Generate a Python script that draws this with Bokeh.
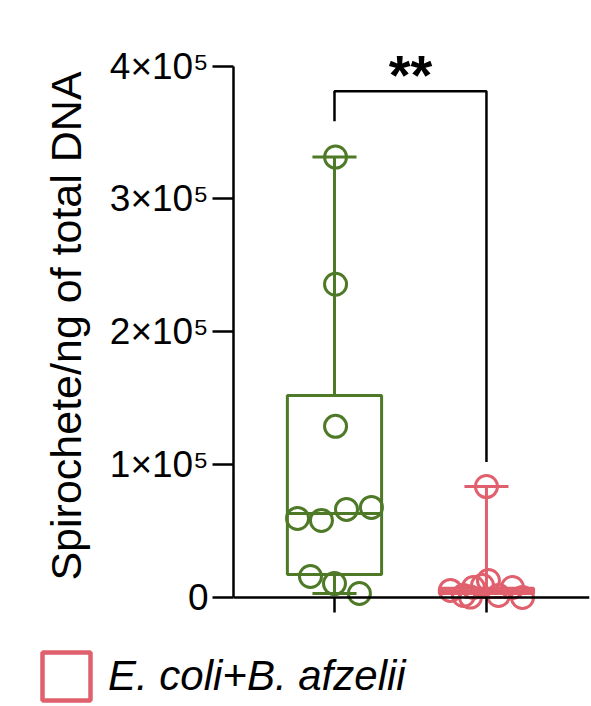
from bokeh.plotting import figure
from bokeh.layouts import column
from bokeh.models import (Range1d, FixedTicker, Legend, LegendItem)
from bokeh.core.properties import value
from bokeh.embed import file_html
from bokeh.resources import INLINE

# ---------------- data ----------------
groups = ["B. afzelii", "E. coli+B. afzelii"]
colors = ["#4e7a27", "#e0606d"]

green_vals = [3.315e5, 2.358e5, 1.288e5, 0.595e5, 0.58e5, 0.663e5, 0.678e5, 0.158e5, 0.105e5, 0.03e5]
green_dx = [0.007, 0.007, 0.007, -0.243, -0.086, 0.079, 0.243, -0.158, 0.0, 0.164]

red_vals = [0.835e5, 0.053e5, 0.015e5, 0.075e5, 0.09e5, 0.128e5, 0.015e5, 0.075e5, 0.0, 0.003e5]
red_dx = [0.0, -0.237, -0.151, -0.086, -0.026, 0.013, 0.079, 0.171, 0.237, -0.105]

# box statistics: min, q1, median, q3, max
box_min = [0.03e5, 0.0]
box_q1 = [0.173e5, 0.03e5]
box_med = [0.633e5, 0.05e5]
box_q3 = [1.52e5, 0.07e5]
box_max = [3.315e5, 0.835e5]

y_ticks = [0, 1e5, 2e5, 3e5, 4e5]
y_tick_labels = ["0", "1×10⁵", "2×10⁵", "3×10⁵", "4×10⁵"]

sig_text = "**"
sig_y = 3.94e5
bracket_top = 3.81e5
bracket_left_bottom = 3.585e5
bracket_right_bottom = 1.02e5

y_label = "Spirochete/ng of total DNA"
legend_label = "E. coli+B. afzelii"

FONT = "Liberation Sans"

# ---------------- main figure ----------------
p = figure(width=591, height=640,
           x_range=Range1d(0.3355, 2.678), y_range=Range1d(-0.113e5, 4.2e5),
           output_backend="svg", toolbar_location=None,
           min_border_left=233, min_border_right=2,
           min_border_top=39, min_border_bottom=28)
p.outline_line_color = None
p.xgrid.visible = False
p.ygrid.visible = False

xpos = [i + 1 for i in range(len(groups))]
half_box = 0.31
half_cap = 0.145

for i, (x, c) in enumerate(zip(xpos, colors)):
    p.quad(left=[x - half_box], right=[x + half_box], bottom=[box_q1[i]], top=[box_q3[i]],
           fill_color=None, line_color=c, line_width=3)
    p.segment(x0=[x - half_box], x1=[x + half_box], y0=[box_med[i]], y1=[box_med[i]],
              line_color=c, line_width=3)
    p.segment(x0=[x, x], x1=[x, x], y0=[box_q3[i], box_min[i]], y1=[box_max[i], box_q1[i]],
              line_color=c, line_width=3)
    p.segment(x0=[x - half_cap, x - half_cap], x1=[x + half_cap, x + half_cap],
              y0=[box_max[i], box_min[i]], y1=[box_max[i], box_min[i]],
              line_color=c, line_width=3)

p.scatter(x=[xpos[0] + d for d in green_dx], y=green_vals, size=22, marker="circle",
          fill_color=None, line_color=colors[0], line_width=3)
p.scatter(x=[xpos[1] + d for d in red_dx], y=red_vals, size=22, marker="circle",
          fill_color=None, line_color=colors[1], line_width=3)

# significance bracket
p.line(x=[xpos[0], xpos[0], xpos[1], xpos[1]],
       y=[bracket_left_bottom, bracket_top, bracket_top, bracket_right_bottom],
       line_color="black", line_width=2.5)
p.text(x=[(xpos[0] + xpos[1]) / 2], y=[sig_y], text=[sig_text],
       text_font=value(FONT), text_font_size="56px", text_font_style="bold",
       text_align="center", text_baseline="middle", text_color="black")

# axes
yax = p.yaxis[0]
yax.bounds = (0, 4e5)
yax.ticker = FixedTicker(ticks=y_ticks)
yax.major_label_overrides = {t: l for t, l in zip(y_ticks, y_tick_labels)}
yax.major_tick_out = 21
yax.major_tick_in = 0
yax.minor_tick_out = 0
yax.minor_tick_in = 0
yax.axis_line_width = 2.5
yax.major_tick_line_width = 2.5
yax.major_label_text_font = FONT
yax.major_label_text_font_size = "37px"
yax.major_label_text_color = "black"
yax.major_label_standoff = 4
yax.axis_label = y_label
yax.axis_label_text_font = FONT
yax.axis_label_text_font_size = "43px"
yax.axis_label_text_font_style = "normal"
yax.axis_label_text_color = "black"
yax.axis_label_standoff = 17

xax = p.xaxis[0]
xax.fixed_location = 0
xax.ticker = FixedTicker(ticks=xpos)
xax.major_label_overrides = {x: "" for x in xpos}
xax.major_label_text_font_size = "1px"
xax.major_label_standoff = 0
xax.major_tick_out = 21
xax.major_tick_in = 0
xax.minor_tick_out = 0
xax.minor_tick_in = 0
xax.axis_line_width = 2.5
xax.major_tick_line_width = 2.5

# ---------------- legend strip ----------------
lg = figure(width=591, height=66, x_range=Range1d(0, 1), y_range=Range1d(0, 1),
            output_backend="svg", toolbar_location=None,
            min_border_left=0, min_border_right=0, min_border_top=0, min_border_bottom=0)
lg.frame_align = False
lg.axis.visible = False
lg.xgrid.visible = False
lg.ygrid.visible = False
lg.outline_line_color = None
# proxy renderer (hidden) that only supplies the legend swatch style
leg_r = lg.quad(left=[box_q1[1]], right=[box_q3[1]], bottom=[box_q1[1]], top=[box_q3[1]],
                fill_color="white", line_color=colors[1], line_width=4.5)
leg_r.visible = False
legend = Legend(items=[LegendItem(label=legend_label, renderers=[leg_r])],
                location=(36, 0), padding=0, margin=0, spacing=0,
                glyph_width=60, glyph_height=60, label_standoff=12,
                label_text_font=FONT, label_text_font_size="42px",
                label_text_font_style="italic", label_text_color="black",
                inactive_fill_alpha=0, click_policy="none",
                border_line_color=None, background_fill_alpha=0)
lg.add_layout(legend, "center")

layout = column(p, lg, spacing=0)
open("out.html", "w").write(file_html(layout, INLINE))
